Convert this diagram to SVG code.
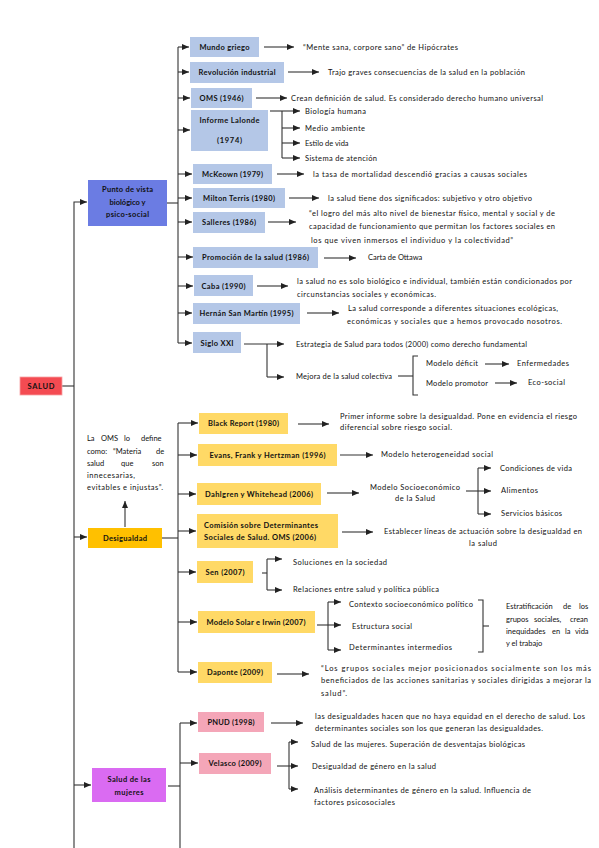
<svg xmlns="http://www.w3.org/2000/svg" width="599" height="848" viewBox="0 0 599 848">
<defs>
<marker id="ah" markerUnits="userSpaceOnUse" markerWidth="7" markerHeight="6" refX="7" refY="3" orient="auto"><path d="M0,0 L7,3 L0,6 z" fill="#222"/></marker>
<style>
.c line,.c path{fill:none;stroke:#333;stroke-width:1.1}
.c .a{marker-end:url(#ah)}
text{font-family:Lato,"Liberation Sans",sans-serif;font-size:7.5px;fill:#111}
.b{font-weight:bold;text-anchor:middle}
.m{text-anchor:middle}
.blue{fill:#B4C7E7}
.yel{fill:#FFD966}
.pink{fill:#F4A6B8}
</style>
</defs>
<rect width="599" height="848" fill="#fff"/>
<g class="c" id="connectors">
<line x1="62" y1="386" x2="74" y2="386"/>
<path class="a" d="M74,848 V202 H87"/>
<line class="a" x1="74" y1="537" x2="87" y2="537"/>
<line class="a" x1="74" y1="785" x2="91" y2="785"/>
<line x1="167" y1="203" x2="178" y2="203"/>
<line x1="178" y1="47" x2="178" y2="343"/>
<line class="a" x1="178" y1="47" x2="189" y2="47"/>
<line class="a" x1="178" y1="72" x2="189" y2="72"/>
<line class="a" x1="178" y1="98" x2="190" y2="98"/>
<line class="a" x1="178" y1="130" x2="190" y2="130"/>
<line class="a" x1="178" y1="174" x2="192" y2="174"/>
<line class="a" x1="178" y1="198" x2="192" y2="198"/>
<line class="a" x1="178" y1="222" x2="192" y2="222"/>
<line class="a" x1="178" y1="257" x2="193" y2="257"/>
<line class="a" x1="178" y1="286" x2="193" y2="286"/>
<line class="a" x1="178" y1="313" x2="192" y2="313"/>
<line class="a" x1="178" y1="343" x2="192" y2="343"/>
<line class="a" x1="264" y1="47" x2="294" y2="47"/>
<line class="a" x1="288" y1="72" x2="319" y2="72"/>
<line class="a" x1="256" y1="98" x2="287" y2="98"/>
<line class="a" x1="270" y1="111" x2="300" y2="111"/>
<line x1="282" y1="111" x2="282" y2="158"/>
<line class="a" x1="282" y1="128" x2="300" y2="128"/>
<line class="a" x1="282" y1="143" x2="300" y2="143"/>
<line class="a" x1="282" y1="158" x2="300" y2="158"/>
<line class="a" x1="277" y1="174" x2="304" y2="174"/>
<line class="a" x1="289" y1="198" x2="319" y2="198"/>
<line class="a" x1="268" y1="222" x2="296" y2="222"/>
<line class="a" x1="324" y1="258" x2="356" y2="258"/>
<line class="a" x1="257" y1="286" x2="288" y2="286"/>
<line class="a" x1="307" y1="313" x2="339" y2="313"/>
<line class="a" x1="244" y1="344" x2="284" y2="344"/>
<line x1="267" y1="344" x2="267" y2="377"/>
<line class="a" x1="267" y1="377" x2="284" y2="377"/>
<line x1="398" y1="376" x2="413" y2="376"/>
<path d="M418,356 H413 V395 H418"/>
<line class="a" x1="485" y1="364" x2="509" y2="364"/>
<line class="a" x1="495" y1="383" x2="517" y2="383"/>
<line x1="162" y1="538" x2="178" y2="538"/>
<line x1="178" y1="423" x2="178" y2="672"/>
<line class="a" x1="178" y1="423" x2="198" y2="423"/>
<line class="a" x1="178" y1="455" x2="197" y2="455"/>
<line class="a" x1="178" y1="494" x2="196" y2="494"/>
<line class="a" x1="178" y1="531" x2="196" y2="531"/>
<line class="a" x1="178" y1="572" x2="196" y2="572"/>
<line class="a" x1="178" y1="622" x2="197" y2="622"/>
<line class="a" x1="178" y1="672" x2="197" y2="672"/>
<line class="a" x1="125" y1="527" x2="125" y2="501"/>
<line class="a" x1="298" y1="424" x2="329" y2="424"/>
<line class="a" x1="340" y1="455" x2="373" y2="455"/>
<line class="a" x1="327" y1="493" x2="359" y2="493"/>
<line class="a" x1="466" y1="491" x2="491" y2="491"/>
<line x1="478" y1="468" x2="478" y2="514"/>
<line class="a" x1="478" y1="468" x2="491" y2="468"/>
<line class="a" x1="478" y1="514" x2="491" y2="514"/>
<line class="a" x1="342" y1="532" x2="373" y2="532"/>
<line x1="262" y1="573" x2="267" y2="573"/>
<line x1="267" y1="559" x2="267" y2="590"/>
<line class="a" x1="267" y1="559" x2="282" y2="559"/>
<line class="a" x1="267" y1="590" x2="282" y2="590"/>
<line class="a" x1="317" y1="625" x2="341" y2="625"/>
<line x1="328" y1="602" x2="328" y2="650"/>
<line class="a" x1="328" y1="602" x2="341" y2="602"/>
<line class="a" x1="328" y1="650" x2="341" y2="650"/>
<path d="M478,600 H483 V652 H478"/>
<line x1="483" y1="626" x2="489" y2="626"/>
<line class="a" x1="277" y1="674" x2="309" y2="674"/>
<line x1="168" y1="786" x2="180" y2="786"/>
<line x1="180" y1="723" x2="180" y2="848"/>
<line class="a" x1="180" y1="723" x2="197" y2="723"/>
<line class="a" x1="180" y1="763" x2="198" y2="763"/>
<line class="a" x1="271" y1="723" x2="303" y2="723"/>
<line class="a" x1="277" y1="766" x2="298" y2="766"/>
<line x1="289" y1="742" x2="289" y2="789"/>
<line class="a" x1="289" y1="742" x2="298" y2="742"/>
<line class="a" x1="289" y1="789" x2="298" y2="789"/>
</g>
<g id="salud"><rect x="20" y="377" width="42" height="18" fill="#F44B52" stroke="#F7A0A4" stroke-width="0.8"/><text class="b" x="41" y="388.5" textLength="27">SALUD</text></g>
<g id="punto"><rect x="88" y="180" width="79" height="46" fill="#6B7CE3"/><text class="b" x="127.5" y="192" textLength="51">Punto de vista</text><text class="b" x="127.5" y="205" textLength="36">biológico y</text><text class="b" x="127.5" y="216.5" textLength="43">psico-social</text></g>
<g id="mundo"><rect class="blue" x="190" y="37" width="69" height="20"/><text class="b" x="224.5" y="49.5" textLength="50">Mundo griego</text></g>
<g id="revolucion"><rect class="blue" x="190" y="62" width="94" height="21"/><text class="b" x="237" y="75" textLength="77">Revolución industrial</text></g>
<g id="oms1946"><rect class="blue" x="191" y="88" width="61" height="20"/><text class="b" x="221.5" y="100.5" textLength="44">OMS (1946)</text></g>
<g id="lalonde"><rect class="blue" x="191" y="110" width="77" height="41"/><text class="b" x="229.5" y="122.5" textLength="60">Informe Lalonde</text><text class="b" x="229.5" y="143" textLength="25">(1974)</text></g>
<g id="mckeown"><rect class="blue" x="193" y="164" width="79" height="20"/><text class="b" x="232.5" y="176.5" textLength="61">McKeown (1979)</text></g>
<g id="milton"><rect class="blue" x="193" y="188" width="92" height="20"/><text class="b" x="239" y="200.5" textLength="72">Milton Terris (1980)</text></g>
<g id="salleres"><rect class="blue" x="193" y="212" width="72" height="21"/><text class="b" x="229" y="225" textLength="54">Salleres (1986)</text></g>
<g id="promocion"><rect class="blue" x="193" y="247" width="125" height="21"/><text class="b" x="255.5" y="260" textLength="107">Promoción de la salud (1986)</text></g>
<g id="caba"><rect class="blue" x="194" y="275" width="59" height="21"/><text class="b" x="223.5" y="288.5" textLength="44">Caba (1990)</text></g>
<g id="hernan"><rect class="blue" x="193" y="303" width="107" height="21"/><text class="b" x="246.5" y="316" textLength="94">Hernán San Martín (1995)</text></g>
<g id="siglo"><rect class="blue" x="193" y="332" width="48" height="21"/><text class="b" x="217" y="345.5" textLength="33">Siglo XXI</text></g>
<g id="t-mundo"><text x="303" y="49.5" textLength="155">“Mente sana, corpore sano” de Hipócrates</text></g>
<g id="t-rev"><text x="328" y="74.5" textLength="197">Trajo graves consecuencias de la salud en la población</text></g>
<g id="t-oms"><text x="291" y="100.5" textLength="252">Crean definición de salud. Es considerado derecho humano universal</text></g>
<g id="t-lalonde"><text x="305" y="113.5" textLength="61">Biología humana</text><text x="305" y="130.5" textLength="60">Medio ambiente</text><text x="305" y="145.5">Estilo de vida</text><text x="305" y="160.5" textLength="72">Sistema de atención</text></g>
<g id="t-mckeown"><text x="313" y="176.5" textLength="214">la tasa de mortalidad descendió gracias a causas sociales</text></g>
<g id="t-milton"><text x="328" y="200.5" textLength="204">la salud tiene dos significados: subjetivo y otro objetivo</text></g>
<g id="t-salleres"><text x="309" y="215.5" textLength="246">“el logro del más alto nivel de bienestar físico, mental y social y de</text><text x="309" y="229" textLength="246">capacidad de funcionamiento que permitan los factores sociales en</text><text x="311" y="242.5" textLength="202">los que viven inmersos el individuo y la colectividad”</text></g>
<g id="t-promocion"><text x="368" y="260">Carta de Ottawa</text></g>
<g id="t-caba"><text x="297" y="284" textLength="275">la salud no es solo biológico e individual, también están condicionados por</text><text x="297" y="296.5" textLength="139">circunstancias sociales y económicas.</text></g>
<g id="t-hernan"><text x="348" y="311" textLength="210">La salud corresponde a diferentes situaciones ecológicas,</text><text x="347" y="323.5" textLength="215">económicas y sociales que a hemos provocado nosotros.</text></g>
<g id="t-estrategia"><text x="296" y="347" textLength="231">Estrategia de Salud para todos (2000) como derecho fundamental</text></g>
<g id="t-mejora"><text x="296" y="379" textLength="96">Mejora de la salud colectiva</text></g>
<g id="t-deficit"><text x="426" y="366" textLength="52">Modelo déficit</text></g>
<g id="t-enfermedades"><text x="517" y="366" textLength="52">Enfermedades</text></g>
<g id="t-promotor"><text x="426" y="385.5" textLength="62">Modelo promotor</text></g>
<g id="t-ecosocial"><text x="528" y="384.5" textLength="37">Eco-social</text></g>
<g id="desigualdad"><rect x="88" y="528" width="74" height="20" fill="#FFC000"/><text class="b" x="125" y="540.5" textLength="44">Desigualdad</text></g>
<g id="t-omsdefine"><text y="441"><tspan x="87">La</tspan><tspan x="101">OMS</tspan><tspan x="124">lo</tspan><tspan x="141">define</tspan></text><text y="454"><tspan x="87">como:</tspan><tspan x="113">“Materia</tspan><tspan x="156">de</tspan></text><text y="465.5"><tspan x="87">salud</tspan><tspan x="121">que</tspan><tspan x="152">son</tspan></text><text x="87" y="478" textLength="48">innecesarias,</text><text x="87" y="490" textLength="76">evitables e injustas”.</text></g>
<g id="black"><rect class="yel" x="199" y="413" width="89" height="21"/><text class="b" x="243.5" y="426" textLength="71">Black Report (1980)</text></g>
<g id="evans"><rect class="yel" x="198" y="444" width="139" height="22"/><text class="b" x="267.5" y="457.5" textLength="116">Evans, Frank y Hertzman (1996)</text></g>
<g id="dahlgren"><rect class="yel" x="197" y="483" width="124" height="22"/><text class="b" x="259" y="496.5" textLength="108">Dahlgren y Whitehead (2006)</text></g>
<g id="comision"><rect class="yel" x="197" y="514" width="141" height="34"/><text x="204" y="527.5" textLength="114" font-weight="bold">Comisión sobre Determinantes</text><text x="204" y="539.5" textLength="112" font-weight="bold">Sociales de Salud. OMS (2006)</text></g>
<g id="sen"><rect class="yel" x="197" y="561" width="56" height="22"/><text class="b" x="225" y="574.5" textLength="39">Sen (2007)</text></g>
<g id="solar"><rect class="yel" x="198" y="611" width="117" height="22"/><text class="b" x="256" y="624.5" textLength="99">Modelo Solar e Irwin (2007)</text></g>
<g id="daponte"><rect class="yel" x="198" y="662" width="74" height="21"/><text class="b" x="235" y="675" textLength="56">Daponte (2009)</text></g>
<g id="t-black"><text x="340" y="418.5" textLength="237">Primer informe sobre la desigualdad. Pone en evidencia el riesgo</text><text x="340" y="430" textLength="112">diferencial sobre riesgo social.</text></g>
<g id="t-evans"><text x="381" y="457" textLength="112">Modelo heterogeneidad social</text></g>
<g id="t-socio"><text class="m" x="415" y="489.5" textLength="90">Modelo Socioeconómico</text><text class="m" x="415" y="500.5" textLength="40">de la Salud</text></g>
<g id="t-condiciones"><text x="500" y="470.5" textLength="72">Condiciones de vida</text></g>
<g id="t-alimentos"><text x="501" y="492.5" textLength="37">Alimentos</text></g>
<g id="t-servicios"><text x="501" y="515.5" textLength="61">Servicios básicos</text></g>
<g id="t-comision"><text class="m" x="483" y="533.5" textLength="198">Establecer líneas de actuación sobre la desigualdad en</text><text class="m" x="483" y="545.5" textLength="28">la salud</text></g>
<g id="t-soluciones"><text x="293" y="564.5" textLength="94">Soluciones en la sociedad</text></g>
<g id="t-relaciones"><text x="293" y="591.5" textLength="146">Relaciones entre salud y política pública</text></g>
<g id="t-contexto"><text x="349" y="606.5" textLength="124">Contexto socioeconómico político</text></g>
<g id="t-estructura"><text x="352" y="628.5" textLength="60">Estructura social</text></g>
<g id="t-determinantes"><text x="349" y="649.5" textLength="103">Determinantes intermedios</text></g>
<g id="t-estratificacion"><text y="609"><tspan x="506">Estratificación</tspan><tspan x="563">de</tspan><tspan x="579">los</tspan></text><text y="621.5"><tspan x="506">grupos</tspan><tspan x="534">sociales,</tspan><tspan x="570">crean</tspan></text><text y="633.5"><tspan x="506">inequidades</tspan><tspan x="552">en</tspan><tspan x="565">la</tspan><tspan x="575">vida</tspan></text><text x="506" y="645.5">y el trabajo</text></g>
<g id="t-daponte"><text x="321" y="670.5" textLength="270">“Los grupos sociales mejor posicionados socialmente son los más</text><text x="321" y="682.5" textLength="270">beneficiados de las acciones sanitarias y sociales dirigidas a mejorar la</text><text x="321" y="695.5" textLength="26">salud”.</text></g>
<g id="mujeres"><rect x="92" y="768" width="74" height="34" fill="#DA6BF2"/><text class="b" x="129" y="781.5" textLength="43">Salud de las</text><text class="b" x="129" y="794.5" textLength="29">mujeres</text></g>
<g id="pnud"><rect class="pink" x="198" y="712" width="66" height="20"/><text class="b" x="231" y="724.5" textLength="47">PNUD (1998)</text></g>
<g id="velasco"><rect class="pink" x="199" y="753" width="72" height="21"/><text class="b" x="235" y="766" textLength="53">Velasco (2009)</text></g>
<g id="t-pnud"><text x="315" y="718.5" textLength="270">las desigualdades hacen que no haya equidad en el derecho de salud. Los</text><text x="315" y="730.5" textLength="228">determinantes sociales son los que generan las desigualdades.</text></g>
<g id="t-v1"><text x="311" y="746.5" textLength="214">Salud de las mujeres. Superación de desventajas biológicas</text></g>
<g id="t-v2"><text x="312" y="768.5" textLength="124">Desigualdad de género en la salud</text></g>
<g id="t-v3"><text x="314" y="792.5" textLength="217">Análisis determinantes de género en la salud. Influencia de</text><text x="314" y="804.5" textLength="81">factores psicosociales</text></g>
</svg>
